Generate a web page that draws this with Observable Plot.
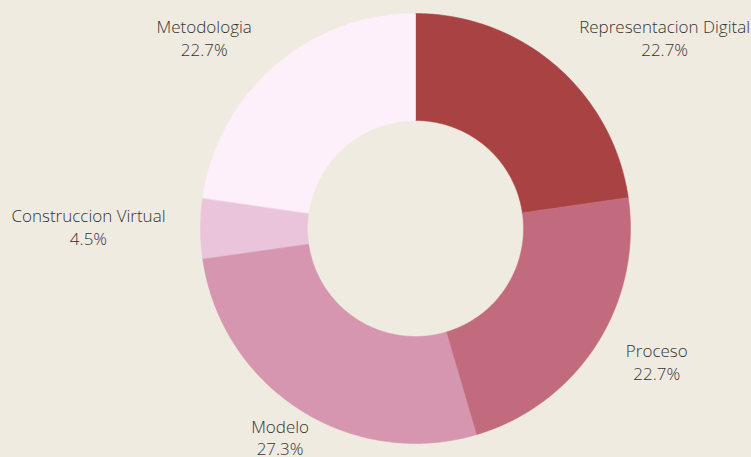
<!DOCTYPE html>
<html>
<head>
<meta charset="utf-8">
<script src="https://cdn.jsdelivr.net/npm/d3@7"></script>
<script src="https://cdn.jsdelivr.net/npm/@observablehq/plot@0.6"></script>
<style>
html, body { margin: 0; padding: 0; background: #f0ebe0; }
#chart svg { display: block; }
</style>
</head>
<body>
<div id="chart"></div>
<script>
const categories = ["Representacion Digital", "Proceso", "Modelo", "Construccion Virtual", "Metodologia"];
const percents = [22.7, 22.7, 27.3, 4.5, 22.7];
const colors = ["#a94242", "#c26a7e", "#d696b0", "#eac4db", "#fdf0fb"];

const R = 215, r0 = 108, RL = 250;
const FONT_SIZE = 17;
const pie = d3.pie().sort(null).value(d => d.value)(categories.map((name, i) => ({name, value: percents[i]})));

const poly = [];
pie.forEach(s => {
  const n = Math.max(8, Math.ceil((s.endAngle - s.startAngle) * 80));
  for (let k = 0; k <= n; k++) {
    const a = s.startAngle + (s.endAngle - s.startAngle) * k / n;
    poly.push({name: s.data.name, x: R * Math.sin(a), y: R * Math.cos(a)});
  }
  for (let k = n; k >= 0; k--) {
    const a = s.startAngle + (s.endAngle - s.startAngle) * k / n;
    poly.push({name: s.data.name, x: r0 * Math.sin(a), y: r0 * Math.cos(a)});
  }
});

const ctx = document.createElement("canvas").getContext("2d");
ctx.font = "300 " + FONT_SIZE + "px 'Open Sans'";
const labels = pie.map(s => {
  const a = (s.startAngle + s.endAngle) / 2;
  const sx = Math.sin(a);
  const lines = [s.data.name, s.data.value.toFixed(1) + "%"];
  const w = Math.max(...lines.map(l => ctx.measureText(l).width));
  const shift = Math.abs(sx) < 0.6 ? 0 : (sx > 0 ? w / 2 : -w / 2);
  return {x: RL * sx + shift, y: RL * Math.cos(a) + 2, text: lines.join("\n")};
});

const chart = Plot.plot({
  width: 751,
  height: 457,
  margin: 0,
  style: {background: "#f0ebe0", fontFamily: "'Open Sans', sans-serif"},
  x: {domain: [-415, 336], axis: null},
  y: {domain: [-229, 228], axis: null},
  color: {domain: categories, range: colors},
  marks: [
    Plot.line(poly, {x: "x", y: "y", z: "name", fill: "name", stroke: "name", strokeWidth: 0.5, curve: "linear-closed"}),
    Plot.text(labels, {x: "x", y: "y", text: "text", fill: "#333333", fontSize: FONT_SIZE, fontWeight: 300, lineHeight: 1.35, textAnchor: "middle"})
  ]
});
document.getElementById("chart").appendChild(chart);
</script>
</body>
</html>
